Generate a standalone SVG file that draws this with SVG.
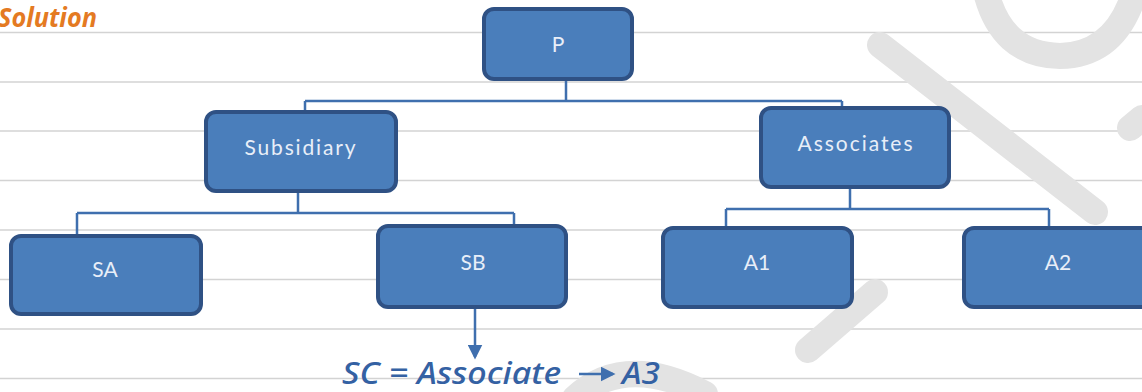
<svg xmlns="http://www.w3.org/2000/svg" width="1142" height="392" viewBox="0 0 1142 392">
  <defs>
    <style>
      .rule { stroke: #d3d3d3; stroke-width: 1.5; }
      .wm { fill: none; stroke: #e3e3e3; stroke-width: 26; stroke-linecap: round; stroke-linejoin: round; }
      .box { fill: #4a7ebb; stroke: #2f5184; stroke-width: 4; }
      .lbl { font-family: Lato, "Open Sans", sans-serif; font-size: 21px; fill: #e8eef8; text-anchor: middle; }
      .edge { fill: none; stroke: #3f6fae; stroke-width: 2.5; }
      .hand { font-family: "Noto Sans", "DejaVu Sans", sans-serif; font-style: italic; font-weight: 500; fill: #3461a3; }
    </style>
    <marker id="arrow" markerWidth="6" markerHeight="6" refX="5" refY="3" orient="auto" markerUnits="strokeWidth">
      <path d="M0,0 L6,3 L0,6 Z" fill="#3f6fae"/>
    </marker>
  </defs>

  <rect width="1142" height="392" fill="#ffffff"/>

  <!-- ruled paper -->
  <g id="rules">
    <line class="rule" x1="0" y1="32.5" x2="1142" y2="32.5"/>
    <line class="rule" x1="0" y1="82" x2="1142" y2="82"/>
    <line class="rule" x1="0" y1="131" x2="1142" y2="131"/>
    <line class="rule" x1="0" y1="180.5" x2="1142" y2="180.5"/>
    <line class="rule" x1="0" y1="230" x2="1142" y2="230"/>
    <line class="rule" x1="0" y1="279.5" x2="1142" y2="279.5"/>
    <line class="rule" x1="0" y1="329" x2="1142" y2="329"/>
    <line class="rule" x1="0" y1="378.5" x2="1142" y2="378.5"/>
  </g>

  <!-- faint watermark strokes -->
  <g id="watermark">
    <path class="wm" d="M880,45 L1095,212"/>
    <path class="wm" d="M985,-12 Q1000,55 1060,56 Q1112,55 1132,0"/>
    <path class="wm" d="M1130,128 L1142,118"/>
    <path class="wm" d="M875,292 L808,350"/>
    <path class="wm" d="M575,398 Q625,352 705,394"/>
  </g>

  <text x="-2" y="27" font-family="'Noto Sans', 'DejaVu Sans', sans-serif" font-style="italic" font-weight="700" font-size="26" fill="#e47a22" textLength="99" lengthAdjust="spacingAndGlyphs">Solution</text>

  <!-- connectors -->
  <g id="connectors">
    <path class="edge" d="M566,80 V101 M305,101 H842 M305,101 V111 M842,101 V107"/>
    <path class="edge" d="M298,192 V213 M77,213 H514 M77,213 V235 M514,213 V225"/>
    <path class="edge" d="M850,188 V209 M726,209 H1049 M726,209 V227 M1049,209 V227"/>
    <path class="edge" d="M475,308 V357" stroke-width="3" marker-end="url(#arrow)"/>
    <path class="edge" d="M579,374 H613" stroke-width="3" marker-end="url(#arrow)"/>
  </g>

  <g id="node-p">
    <rect class="box" x="484" y="9" width="148" height="70" rx="10"/>
    <text class="lbl" x="558" y="52">P</text>
  </g>
  <g id="node-subsidiary">
    <rect class="box" x="206" y="112" width="190" height="79" rx="10"/>
    <text class="lbl" x="300" y="155" textLength="111" lengthAdjust="spacing">Subsidiary</text>
  </g>
  <g id="node-associates">
    <rect class="box" x="761" y="108" width="188" height="79" rx="10"/>
    <text class="lbl" x="855" y="151" textLength="115" lengthAdjust="spacing">Associates</text>
  </g>
  <g id="node-sa">
    <rect class="box" x="11" y="236" width="190" height="78" rx="10"/>
    <text class="lbl" x="105" y="277">SA</text>
  </g>
  <g id="node-sb">
    <rect class="box" x="378" y="226" width="188" height="81" rx="10"/>
    <text class="lbl" x="473" y="270">SB</text>
  </g>
  <g id="node-a1">
    <rect class="box" x="663" y="228" width="189" height="79" rx="10"/>
    <text class="lbl" x="757" y="270">A1</text>
  </g>
  <g id="node-a2">
    <rect class="box" x="964" y="228" width="190" height="79" rx="10"/>
    <text class="lbl" x="1058" y="270">A2</text>
  </g>

  <g id="note">
    <text class="hand" x="342" y="384" font-size="30" textLength="219" lengthAdjust="spacingAndGlyphs">SC = Associate</text>
    <text class="hand" x="622" y="384" font-size="30" textLength="38" lengthAdjust="spacingAndGlyphs">A3</text>
  </g>
</svg>
